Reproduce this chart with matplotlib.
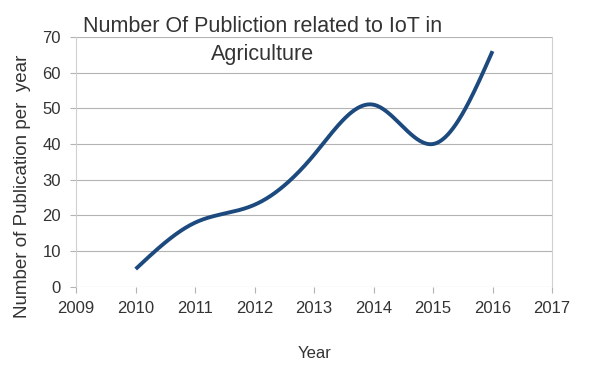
import numpy as np
import matplotlib.pyplot as plt

plt.rcParams['font.family'] = ['Liberation Sans', 'DejaVu Sans']

# datos
anios = [2010, 2011, 2012, 2013, 2014, 2015, 2016]
publicaciones = [5, 18, 23, 37, 51, 40, 66]
ticks_x = [2009, 2010, 2011, 2012, 2013, 2014, 2015, 2016, 2017]
ticks_y = [0, 10, 20, 30, 40, 50, 60, 70]


def spline_natural(x, y, n=400):
    # spline cubico natural solo para dibujar la curva suave
    x = np.asarray(x, float)
    y = np.asarray(y, float)
    k = len(x)
    h = np.diff(x)
    A = np.zeros((k, k))
    b = np.zeros(k)
    A[0, 0] = A[-1, -1] = 1
    for i in range(1, k - 1):
        A[i, i - 1] = h[i - 1]
        A[i, i] = 2 * (h[i - 1] + h[i])
        A[i, i + 1] = h[i]
        b[i] = 6 * ((y[i + 1] - y[i]) / h[i] - (y[i] - y[i - 1]) / h[i - 1])
    M = np.linalg.solve(A, b)
    xs = np.linspace(x[0], x[-1], n)
    idx = np.clip(np.searchsorted(x, xs) - 1, 0, k - 2)
    x0, x1 = x[idx], x[idx + 1]
    hh = x1 - x0
    t0, t1 = x1 - xs, xs - x0
    ys = (M[idx] * t0**3 + M[idx + 1] * t1**3) / (6 * hh) \
        + (y[idx] / hh - M[idx] * hh / 6) * t0 \
        + (y[idx + 1] / hh - M[idx + 1] * hh / 6) * t1
    return xs, ys


fig = plt.figure(figsize=(6, 3.65), dpi=100)
ax = fig.add_axes([0.127, 0.214, 0.793, 0.685])

xs, ys = spline_natural(anios, publicaciones)
ax.plot(xs, ys, color='#1d4a7e', lw=2.8, solid_capstyle='butt', zorder=3)

ax.set_xlim(2009, 2017)
ax.set_ylim(0, 70)
ax.set_xticks(ticks_x)
ax.set_yticks(ticks_y)
ax.tick_params(axis='both', colors='#b3b3b3', labelcolor='#333333', labelsize=12, length=4)
ax.tick_params(axis='x', pad=6)
ax.tick_params(axis='y', pad=7)
ax.grid(axis='y', color='#b3b3b3', lw=0.8)
for s in ['top', 'bottom']:
    ax.spines[s].set_visible(False)
for s in ['left', 'right']:
    ax.spines[s].set_color('#d0d0d0')

ax.set_xlabel('Year', fontsize=12, color='#333333', labelpad=22)
fig.text(0.037, 0.49, 'Number of Publication per  year', rotation=90, fontsize=13.5,
         color='#333333', ha='center', va='center')
fig.text(0.438, 0.89, 'Number Of Publiction related to IoT in\nAgriculture', ha='center',
         va='center', fontsize=15.5, color='#333333', linespacing=1.45)

fig.savefig('out.png', dpi=100)
